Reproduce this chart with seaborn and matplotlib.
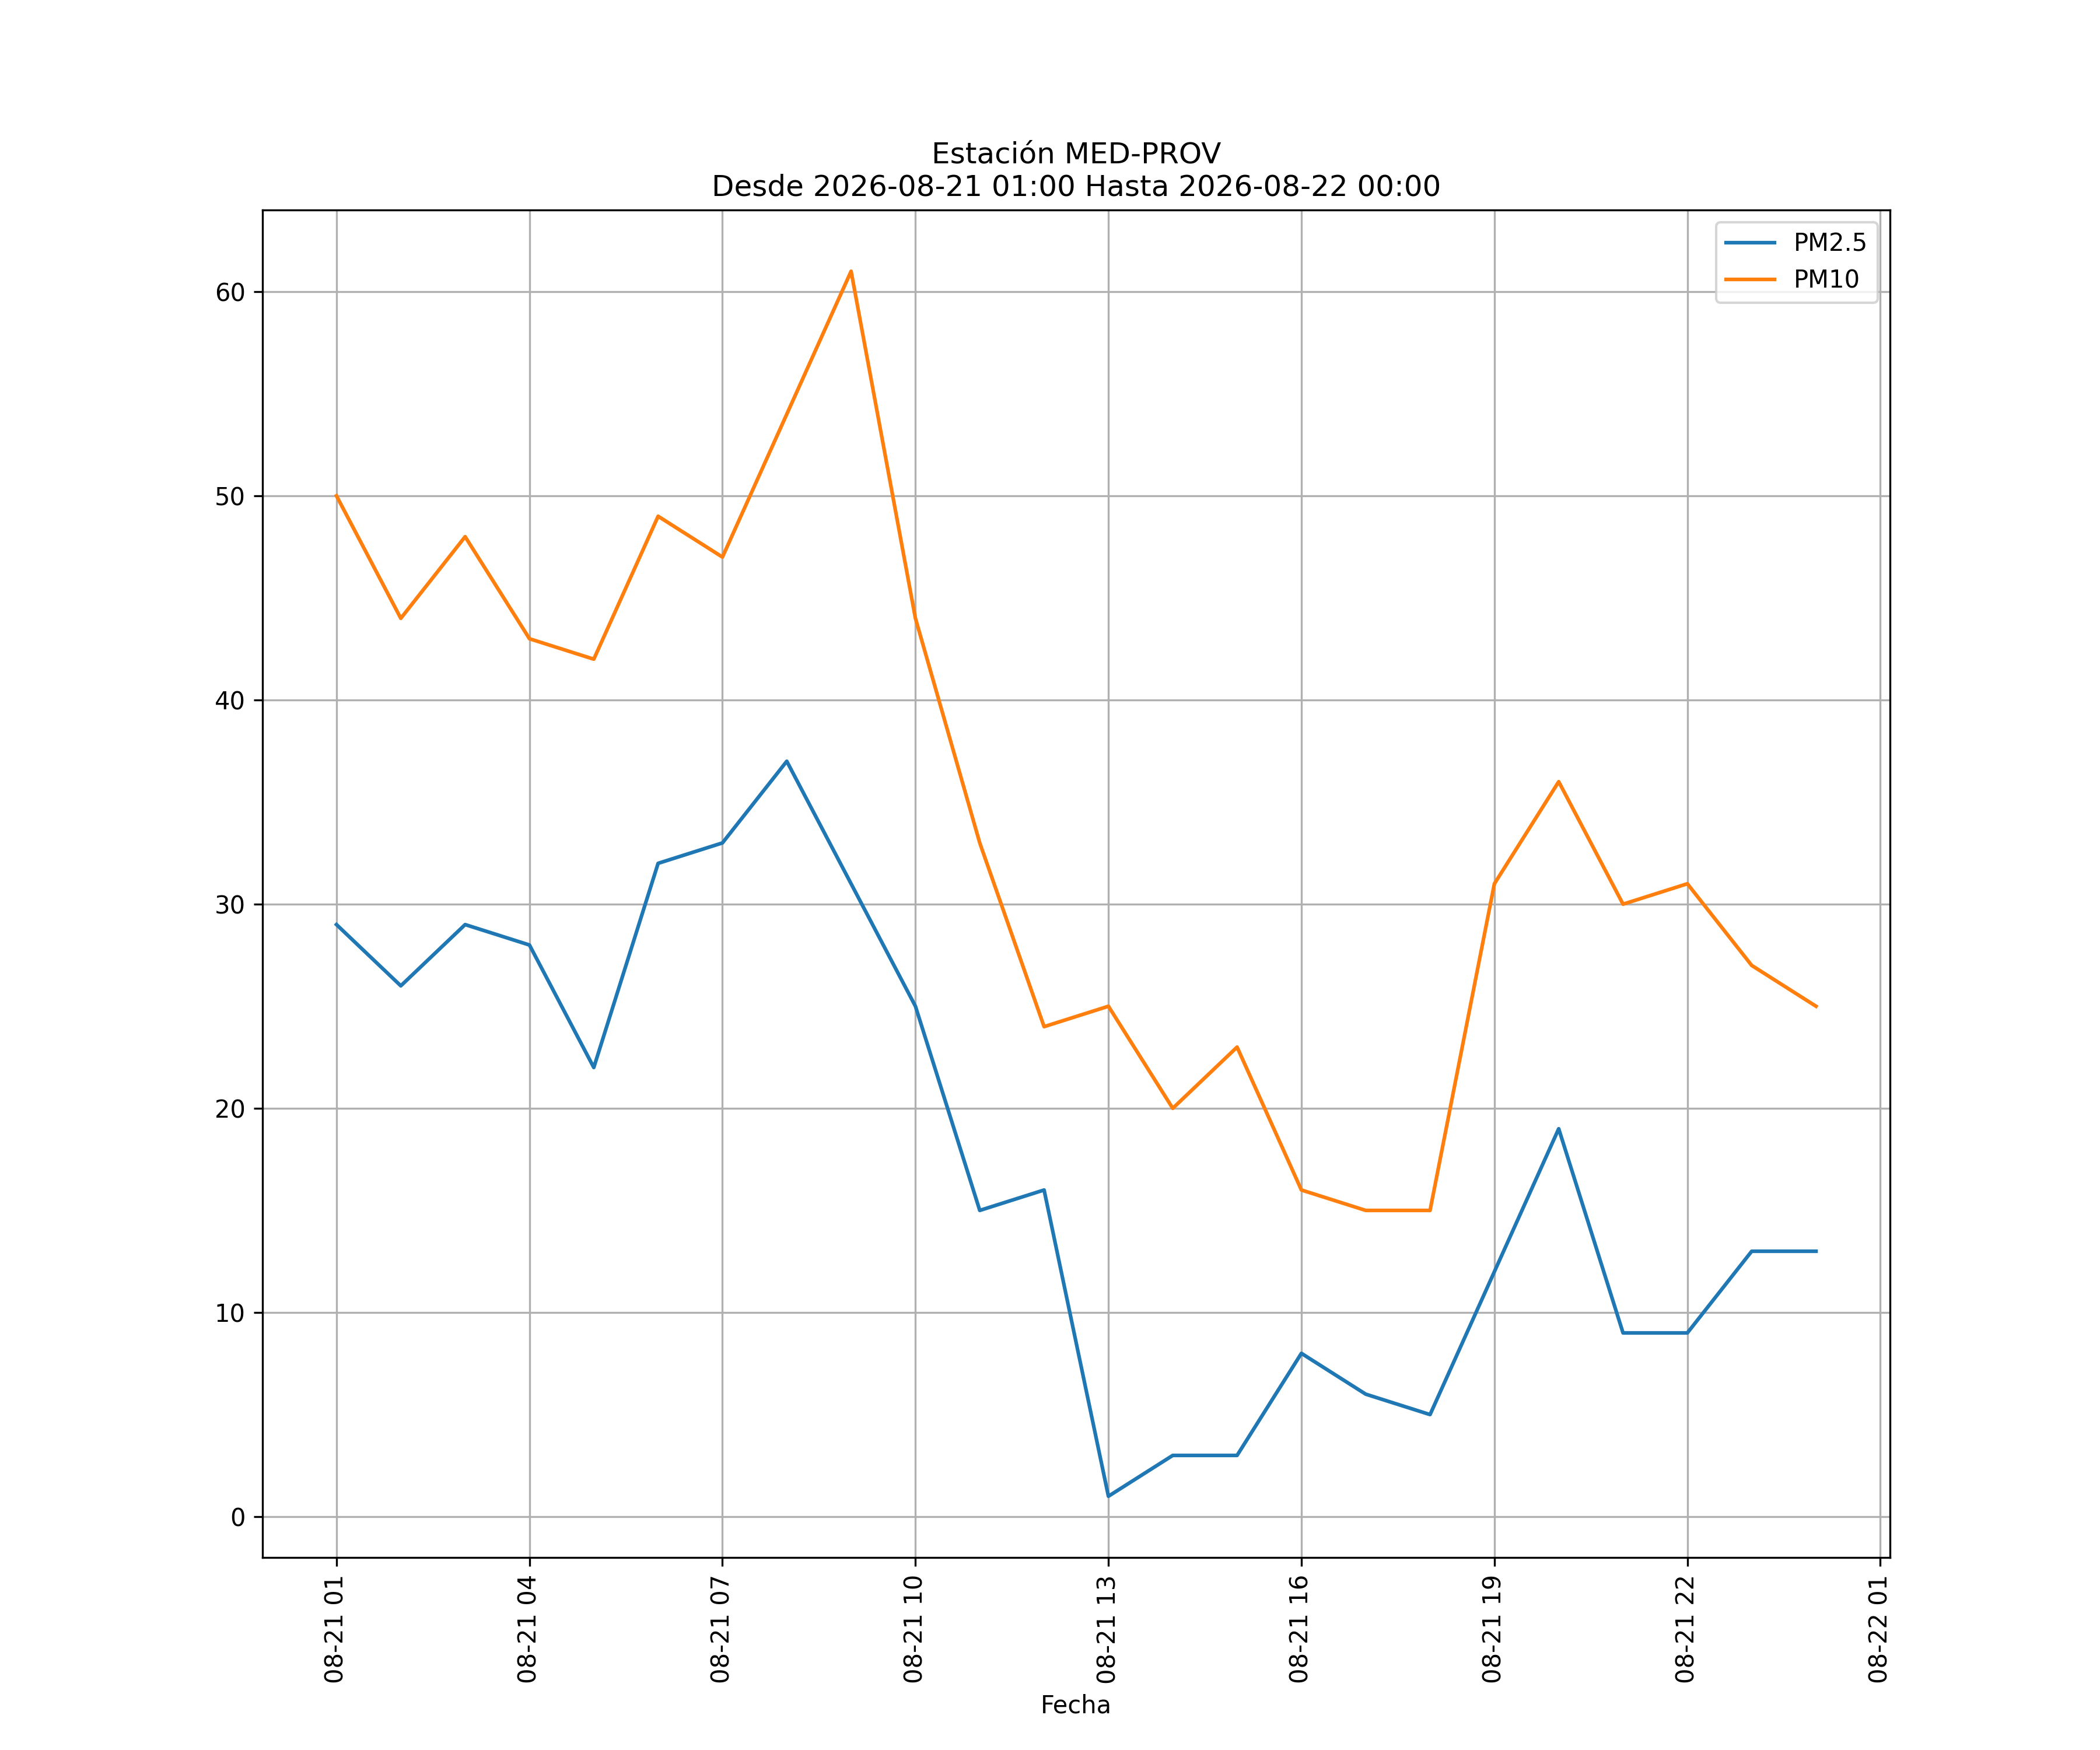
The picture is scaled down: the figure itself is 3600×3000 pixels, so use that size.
import pandas as pd
import matplotlib
matplotlib.use("Agg")
import matplotlib.pyplot as plt
import matplotlib.dates as mdates
import seaborn as sns

# Hourly readings, 2026-08-21 01:00 .. 2026-08-22 00:00
fechas = pd.date_range("2026-08-21 01:00", periods=24, freq="h")
pm25 = [29, 26, 29, 28, 22, 32, 33, 37, 31, 25, 15, 16,
        1, 3, 3, 8, 6, 5, 12, 19, 9, 9, 13, 13]
pm10 = [50, 44, 48, 43, 42, 49, 47, 54, 61, 44, 33, 24,
        25, 20, 23, 16, 15, 15, 31, 36, 30, 31, 27, 25]

df = pd.DataFrame({"Fecha": fechas, "PM2.5": pm25, "PM10": pm10})

fig, ax = plt.subplots(figsize=(12, 10))
sns.lineplot(data=df, x="Fecha", y="PM2.5", label="PM2.5", color="#1f77b4", ax=ax)
sns.lineplot(data=df, x="Fecha", y="PM10", label="PM10", color="#ff7f0e", ax=ax)

ax.set_title("Estación MED-PROV\nDesde 2026-08-21 01:00 Hasta 2026-08-22 00:00")
ax.set_xlabel("Fecha")
ax.set_ylabel("")
ax.xaxis.set_major_locator(mdates.HourLocator(byhour=range(1, 24, 3)))
ax.xaxis.set_major_formatter(mdates.DateFormatter("%m-%d %H"))
plt.setp(ax.get_xticklabels(), rotation=90)
ax.grid(True)
ax.legend(loc="upper right")

fig.savefig("out.png", dpi=300)
